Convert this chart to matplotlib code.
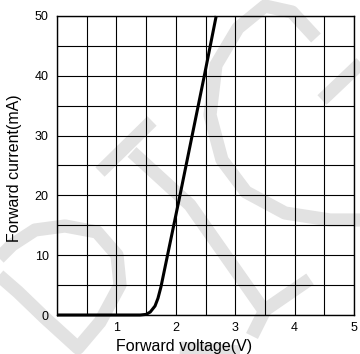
import matplotlib
matplotlib.use("Agg")
import matplotlib.pyplot as plt
import numpy as np

plt.rcParams['font.family'] = ['Liberation Sans', 'DejaVu Sans']

voltage = [0.0, 1.40, 1.50, 1.57, 1.65, 1.70, 1.75, 2.07, 2.48, 2.68]
current = [0.0, 0.0, 0.1, 0.5, 1.5, 2.8, 4.7, 20.0, 40.0, 50.0]
x_ticks = [1, 2, 3, 4, 5]
y_ticks = [0, 10, 20, 30, 40, 50]

W, H = 360, 354
fig = plt.figure(figsize=(W / 100, H / 100), dpi=100)

# background watermark (decorative, in pixel space)
bg = fig.add_axes([0, 0, 1, 1], zorder=0)
bg.set_xlim(0, W)
bg.set_ylim(H, 0)
bg.axis('off')
wm_color = '#e2e2e2'
wm_strokes = [
    [(100, 172), (152, 121)],
    [(132, 152), (190, 205), (265, 312)],
    [(262, 312), (310, 279)],
    [(265, 310), (252, 336)],
    [(316, 38), (292, 12), (265, 6), (238, 28), (216, 65), (210, 115), (222, 160), (246, 192), (285, 213), (330, 220), (362, 220)],
    [(322, 100), (362, 62)],
    [(-5, 262), (12, 245), (35, 230), (65, 226), (97, 232), (117, 255), (120, 285), (100, 322), (78, 348), (45, 318), (18, 292), (-5, 272)],
    [(180, 348), (240, 352)],
]
for s in wm_strokes:
    xs, ys = zip(*s)
    bg.plot(xs, ys, color=wm_color, linewidth=9.5, solid_capstyle='butt', solid_joinstyle='round')

ax = fig.add_axes([57 / W, 1 - 315 / H, (354 - 57) / W, (315 - 16) / H], zorder=1)
ax.set_facecolor('none')
ax.set_xlim(0, 5)
ax.set_ylim(0, 50)
xg = np.arange(0, 5.01, 0.5)
yg = np.arange(0, 50.01, 5)
ax.set_xticks(xg)
ax.set_yticks(yg)
ax.set_xticklabels([str(int(v)) if v in x_ticks else '' for v in xg])
ax.set_yticklabels([str(int(v)) if int(v) in y_ticks else '' for v in yg])
ax.grid(True, color='black', linewidth=0.8)
ax.tick_params(length=0, labelsize=9)
ax.tick_params(axis='x', pad=5)
ax.tick_params(axis='y', pad=6)
for s in ax.spines.values():
    s.set_linewidth(1.0)
    s.set_color('black')

ax.plot(voltage, current, color='black', linewidth=2.2, solid_capstyle='butt', clip_on=False, zorder=5)

fig.text(184 / W, 1 - 346 / H, 'Forward voltage(V)', ha='center', va='center', fontsize=11.5)
fig.text(15 / W, 1 - 168 / H, 'Forward current(mA)', ha='center', va='center', rotation=90, fontsize=11.5)

fig.savefig('out.png', dpi=100)
